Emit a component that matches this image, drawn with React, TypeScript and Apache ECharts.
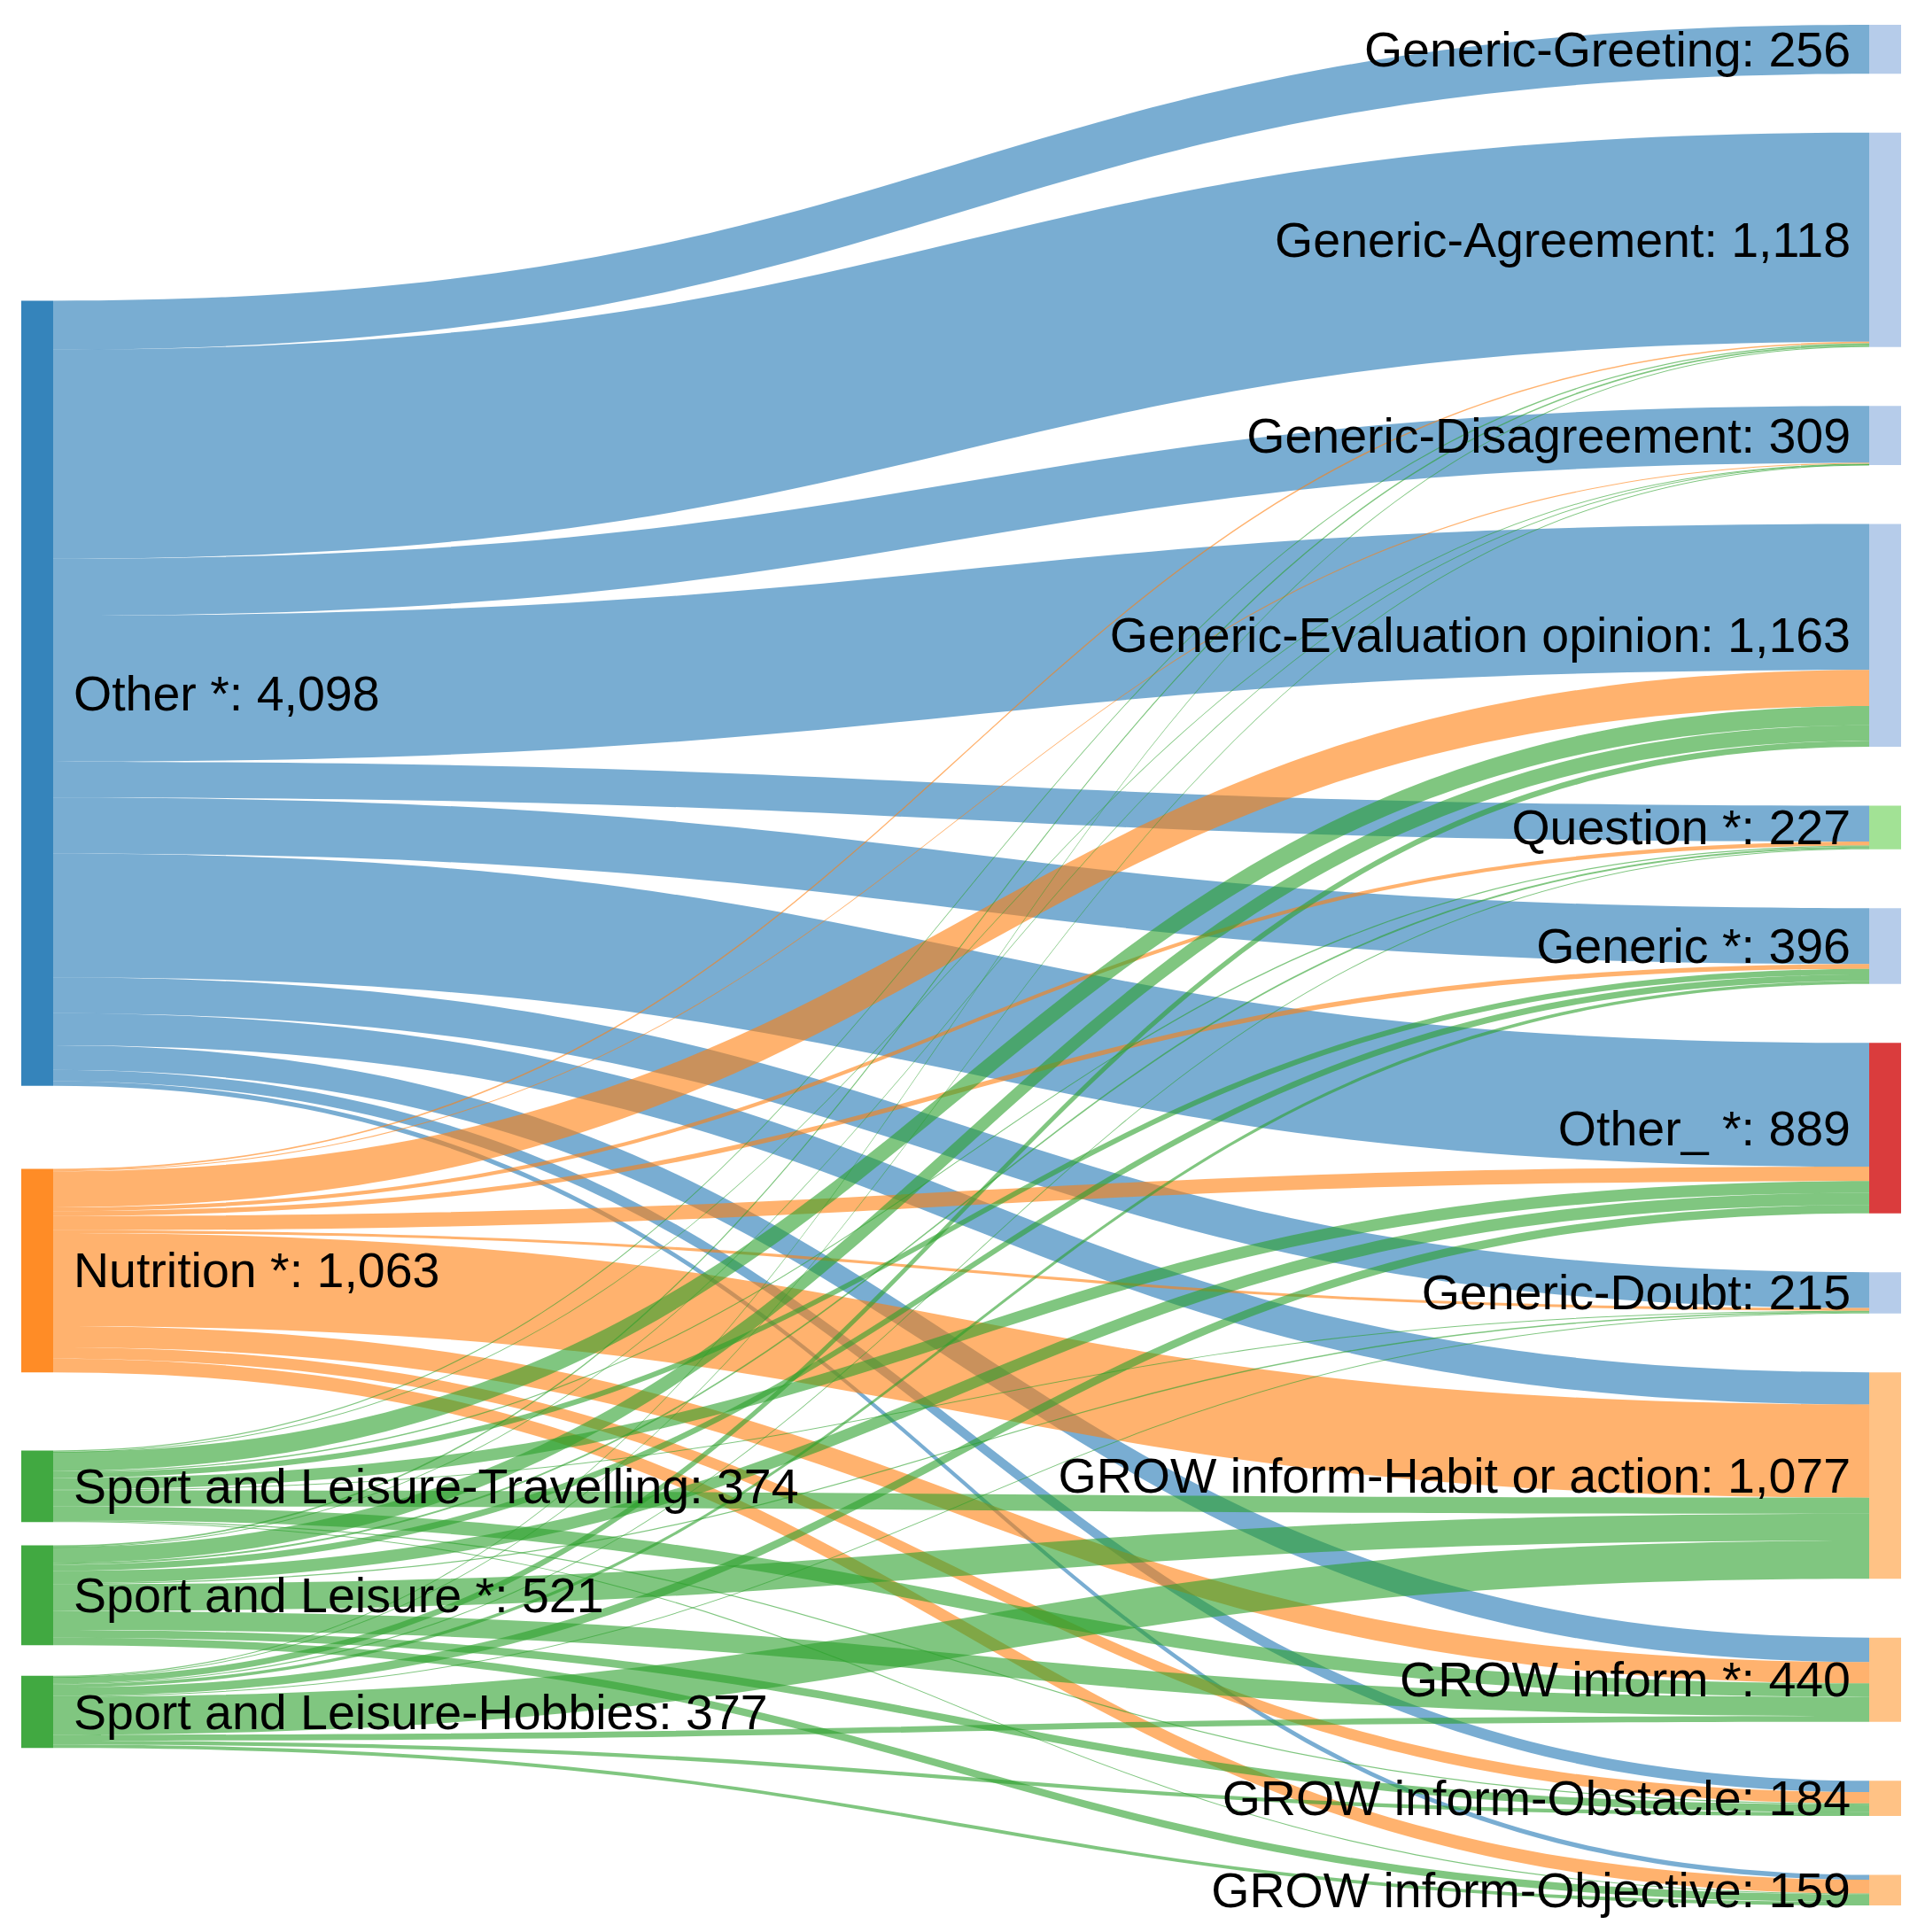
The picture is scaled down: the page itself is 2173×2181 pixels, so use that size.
import React, { useEffect, useRef } from 'react';
import * as echarts from 'echarts';

// Left (source) categories
const sourceNames = [
  'Other *',
  'Nutrition *',
  'Sport and Leisure-Travelling',
  'Sport and Leisure *',
  'Sport and Leisure-Hobbies',
];
const sourceColors = ['#1f77b4', '#ff7f0e', '#2ca02c', '#2ca02c', '#2ca02c'];

// Right (target) categories
const targetNames = [
  'Generic-Greeting',
  'Generic-Agreement',
  'Generic-Disagreement',
  'Generic-Evaluation opinion',
  'Question *',
  'Generic *',
  'Other_ *',
  'Generic-Doubt',
  'GROW inform-Habit or action',
  'GROW inform *',
  'GROW inform-Obstacle',
  'GROW inform-Objective',
];
const targetColors = [
  '#aec7e8', '#aec7e8', '#aec7e8', '#aec7e8', '#98df8a', '#aec7e8',
  '#d62728', '#aec7e8', '#ffbb78', '#ffbb78', '#ffbb78', '#ffbb78',
];

// Flow values from each source to each target (same order as targetNames)
const otherFlows = [256, 1091, 297, 762, 187, 292, 646, 187, 168, 128, 59, 25];
const nutritionFlows = [0, 8, 5, 188, 20, 25, 75, 14, 486, 111, 59, 72];
const travellingFlows = [0, 6, 2, 100, 6, 29, 61, 4, 84, 71, 6, 5];
const sportFlows = [0, 8, 3, 81, 9, 33, 63, 6, 140, 99, 40, 39];
const hobbiesFlows = [0, 5, 2, 32, 5, 17, 44, 4, 199, 31, 20, 18];

const flowTable = [otherFlows, nutritionFlows, travellingFlows, sportFlows, hobbiesFlows];

// vertical placement of the left column nodes (fraction of the plot height)
const sourcePlacement = [0.1467, 0.6083, 0.7581, 0.8085, 0.8779];

const fmt = (v: number) => Math.round(v).toLocaleString('en-US');

export default function App() {
  const ref = useRef<HTMLDivElement>(null);

  useEffect(() => {
    if (!ref.current) return;
    const chart = echarts.init(ref.current, undefined, { renderer: 'svg' });

    const sum = (a: number[]) => a.reduce((s, v) => s + v, 0);
    const labelFont = {
      fontFamily: '"Liberation Sans", Arial, sans-serif',
      fontSize: 55.5,
      color: '#000',
    };

    const nodes: any[] = [];
    sourceNames.forEach((name, i) => {
      nodes.push({
        name,
        value: sum(flowTable[i]),
        localY: sourcePlacement[i],
        itemStyle: { color: sourceColors[i], opacity: 0.9, borderWidth: 0 },
        label: { position: 'right', distance: 23, ...labelFont },
      });
    });
    targetNames.forEach((name, j) => {
      nodes.push({
        name,
        value: sum(flowTable.map((row) => row[j])),
        itemStyle: { color: targetColors[j], opacity: 0.9, borderWidth: 0 },
        label: { position: 'left', distance: 21, ...labelFont },
      });
    });

    const links: any[] = [];
    flowTable.forEach((row, i) => {
      row.forEach((v, j) => {
        if (v > 0) links.push({ source: sourceNames[i], target: targetNames[j], value: v });
      });
    });

    chart.setOption({
      animation: false,
      backgroundColor: '#ffffff',
      series: [
        {
          type: 'sankey',
          left: 24,
          right: 27,
          top: 28,
          bottom: 30,
          nodeWidth: 36,
          nodeGap: 66.5,
          layoutIterations: 0,
          draggable: false,
          emphasis: { disabled: true },
          data: nodes,
          links,
          label: {
            show: true,
            ...labelFont,
            formatter: (p: any) => `${p.name}: ${fmt(p.value)}`,
          },
          lineStyle: { color: 'source', opacity: 0.6, curveness: 0.5 },
          itemStyle: { borderWidth: 0 },
        },
      ],
    });

    return () => chart.dispose();
  }, []);

  return (
    <div
      ref={ref}
      style={{ position: 'absolute', left: 0, top: 0, width: 2173, height: 2181 }}
    />
  );
}
